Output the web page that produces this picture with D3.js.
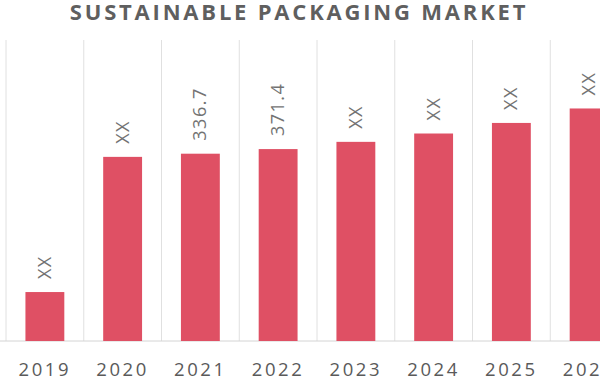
<!DOCTYPE html>
<html>
<head>
<meta charset="utf-8">
<script src="https://cdn.jsdelivr.net/npm/d3@7"></script>
<style>
  body { margin: 0; background: #fff; }
</style>
</head>
<body>
<div id="container"></div>
<script>
/* CONSTANTS AND GLOBALS */
const width = 600,
  height = 380,
  margin = { top: 40, bottom: 39, left: 6, right: -28 };

// DATA (bar heights, labels as printed)
const years = ["2019", "2020", "2021", "2022", "2023", "2024", "2025", "2026"];
const values = [88, 331, 336.7, 345, 358, 373, 392, 418];
const labels = ["XX", "XX", "336.7", "371.4", "XX", "XX", "XX", "XX"];

const data = years.map((y, i) => ({ year: y, value: values[i], label: labels[i] }));

const svg = d3.select("#container")
  .append("svg")
  .attr("width", width)
  .attr("height", height);

// SCALES
const x = d3.scaleBand()
  .domain(years)
  .range([margin.left, width - margin.right])
  .paddingInner(0.5)
  .paddingOuter(0.25);

const y = d3.scaleLinear()
  .domain([0, 336.7])
  .range([height - margin.bottom, height - margin.bottom - 187.3]);

// vertical gridlines between categories
const step = x.step();
const bounds = years.map(d => x(d) - x.paddingOuter() * step);
svg.selectAll("line.grid")
  .data(bounds)
  .join("line")
  .attr("class", "grid")
  .attr("x1", d => d).attr("x2", d => d)
  .attr("y1", margin.top).attr("y2", height - margin.bottom)
  .attr("stroke", "#e0e0e0")
  .attr("stroke-width", 1);

// baseline
svg.append("line")
  .attr("x1", 0).attr("x2", width)
  .attr("y1", y(0)).attr("y2", y(0))
  .attr("stroke", "#d4d4d4");

// BARS
svg.selectAll("rect.bar")
  .data(data)
  .join("rect")
  .attr("class", "bar")
  .attr("x", d => x(d.year))
  .attr("width", x.bandwidth())
  .attr("y", d => y(d.value))
  .attr("height", d => y(0) - y(d.value))
  .attr("fill", "#df5064");

// value labels, rotated
svg.selectAll("text.lbl")
  .data(data)
  .join("text")
  .attr("class", "lbl")
  .attr("transform", d => `translate(${x(d.year) + x.bandwidth() / 2 + 6},${y(d.value) - 13}) rotate(-90)`)
  .attr("text-anchor", "start")
  .style("font-family", "'Open Sans', sans-serif")
  .style("font-size", "18px")
  .style("letter-spacing", "1.5px")
  .attr("fill", "#737373")
  .text(d => d.label);

// X AXIS
const xAxis = d3.axisBottom(x).tickSize(0).tickPadding(0);
const gx = svg.append("g")
  .attr("transform", `translate(0,${y(0)})`)
  .call(xAxis);
gx.select(".domain").remove();
gx.selectAll("text")
  .attr("y", 35)
  .attr("dy", 0)
  .style("font-family", "'Open Sans', sans-serif")
  .style("font-size", "18.5px")
  .style("letter-spacing", "2.6px")
  .attr("fill", "#5a5a5a");

// TITLE
svg.append("text")
  .attr("x", 299)
  .attr("y", 20)
  .attr("text-anchor", "middle")
  .style("font-family", "'Open Sans', sans-serif")
  .style("font-size", "22px")
  .style("font-weight", "bold")
  .style("letter-spacing", "2.8px")
  .attr("fill", "#5f5f5f")
  .text("SUSTAINABLE PACKAGING MARKET");
</script>
</body>
</html>
